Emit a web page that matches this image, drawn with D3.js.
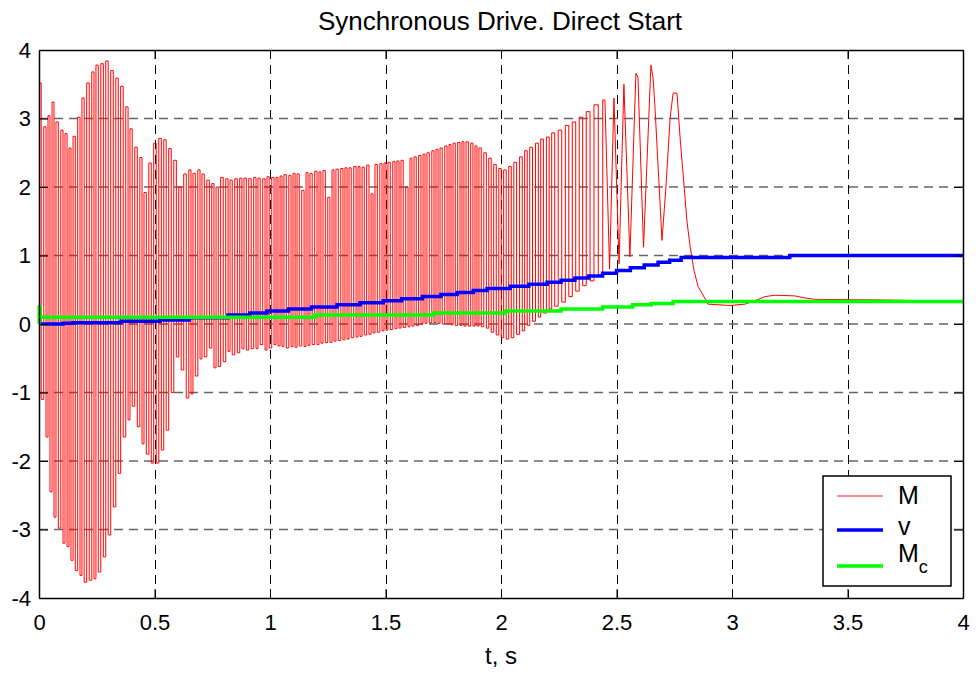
<!DOCTYPE html>
<html>
<head>
<meta charset="utf-8">
<script src="https://cdn.jsdelivr.net/npm/d3@7"></script>
<style>
  body { margin: 0; background: #fff; }
  svg { display: block; font-family: "Liberation Sans", Arial, Helvetica, sans-serif; }
</style>
</head>
<body>
<svg id="chart" width="976" height="675"></svg>
<script>
// ---- data ----
var xTicks = [0, 0.5, 1, 1.5, 2, 2.5, 3, 3.5, 4];
var yTicks = [-4, -3, -2, -1, 0, 1, 2, 3, 4];

// M: turning points of the torque trace (alternating peak / trough), t in s
var mT = [0.000,
  0.004, 0.015, 0.026, 0.035, 0.043, 0.052, 0.061, 0.069, 0.078, 0.089,
  0.100, 0.108, 0.117, 0.126, 0.134, 0.143, 0.152, 0.162, 0.173, 0.182,
  0.190, 0.201, 0.212, 0.223, 0.234, 0.242, 0.251, 0.262, 0.273, 0.284,
  0.294, 0.305, 0.316, 0.327, 0.338, 0.348, 0.359, 0.370, 0.381, 0.390,
  0.398, 0.409, 0.420, 0.431, 0.442, 0.450, 0.459, 0.470, 0.481, 0.491,
  0.502, 0.513, 0.524, 0.535, 0.545, 0.556, 0.567, 0.578, 0.589, 0.600,
  0.610, 0.621, 0.632, 0.643, 0.654, 0.662, 0.671, 0.682, 0.693, 0.701,
  0.710, 0.721, 0.732, 0.743, 0.753, 0.762, 0.771, 0.781, 0.792, 0.803,
  0.814, 0.823, 0.831, 0.842, 0.853, 0.864, 0.874, 0.883, 0.892, 0.903,
  0.913, 0.924, 0.935, 0.944, 0.952, 0.963, 0.974, 0.983, 0.991, 1.002,
  1.013, 1.022, 1.030, 1.039,
  1.048, 1.056, 1.065, 1.076, 1.087, 1.095, 1.104, 1.113, 1.121, 1.132,
  1.143, 1.152, 1.160, 1.169, 1.177, 1.188, 1.199, 1.208, 1.216, 1.225,
  1.234, 1.245, 1.255, 1.264, 1.273, 1.281, 1.290, 1.301, 1.312, 1.320,
  1.329, 1.338, 1.346, 1.357, 1.368, 1.377, 1.385, 1.394, 1.403, 1.413,
  1.424, 1.433, 1.442, 1.450, 1.459, 1.470, 1.481, 1.489, 1.498, 1.506,
  1.515, 1.526, 1.537, 1.545, 1.554, 1.563, 1.571, 1.582, 1.593, 1.602,
  1.610, 1.619, 1.628, 1.638, 1.649, 1.658, 1.667, 1.675, 1.684, 1.695,
  1.706, 1.714, 1.723, 1.732, 1.740, 1.751, 1.762, 1.771, 1.779, 1.788,
  1.797, 1.807, 1.818, 1.827, 1.835, 1.844, 1.853, 1.864, 1.874, 1.883,
  1.892, 1.900,
  1.909, 1.920, 1.931, 1.942, 1.952, 1.963, 1.974, 1.985, 1.996, 2.006,
  2.017, 2.028, 2.039, 2.050, 2.061, 2.074, 2.087, 2.097, 2.108, 2.119,
  2.130, 2.143, 2.156, 2.167, 2.177, 2.190, 2.203, 2.214, 2.225, 2.240,
  2.255, 2.271, 2.286, 2.301, 2.316, 2.331, 2.346, 2.361, 2.377, 2.394,
  2.411, 2.431, 2.450, 2.470, 2.489, 2.511, 2.532, 2.558, 2.584, 2.593,
  2.617, 2.649, 2.658, 2.666, 2.697,
  2.714, 2.732, 2.745, 2.762, 2.775, 2.788, 2.805, 2.818, 2.835, 2.853,
  2.870, 2.896, 2.991, 3.056, 3.100, 3.143, 3.186, 3.273, 3.316, 3.359,
  3.662, 4.000];
var mV = [0.30,
  3.52, -1.10, 2.88, -1.65, 3.04, -2.45, 3.24, -2.82, 2.95, -2.98,
  2.83, -3.20, 2.78, -3.25, 2.57, -3.45, 2.74, -3.60, 3.02, -3.67,
  3.30, -3.77, 3.52, -3.74, 3.68, -3.72, 3.78, -3.62, 3.80, -3.40,
  3.84, -3.08, 3.70, -2.67, 3.59, -2.18, 3.47, -1.65, 3.17, -1.40,
  2.85, -1.20, 2.58, -1.50, 2.43, -1.75, 1.92, -1.90, 2.35, -2.03,
  2.64, -2.03, 2.71, -1.84, 2.69, -1.55, 2.56, -1.00, 2.39, -0.48,
  2.00, -0.67, 2.19, -1.08, 2.25, -1.02, 2.20, -0.76, 2.25, -0.51,
  2.19, -0.48, 2.10, -0.35, 2.05, -0.64, 2.00, -0.62, 2.14, -0.55,
  2.12, -0.40, 2.10, -0.45, 2.12, -0.42, 2.13, -0.36, 2.13, -0.38,
  2.12, -0.36, 2.14, -0.36, 2.13, -0.30, 2.12, -0.38, 2.15, -0.35,
  2.14, -0.30, 2.14, -0.32,
  2.16, -0.33, 2.18, -0.35, 2.17, -0.33, 2.20, -0.34, 2.19, -0.32,
  1.95, -0.33, 2.21, -0.31, 2.20, -0.30, 2.23, -0.30, 2.22, -0.28,
  2.24, -0.27, 1.85, -0.27, 2.25, -0.25, 2.26, -0.24, 2.27, -0.23,
  2.28, -0.22, 2.28, -0.20, 2.30, -0.19, 2.30, -0.18, 2.29, -0.16,
  2.32, -0.15, 1.90, -0.13, 2.33, -0.12, 2.34, -0.10, 2.35, -0.09,
  2.36, -0.08, 2.37, -0.07, 2.38, -0.06, 2.39, -0.05, 2.00, -0.04,
  2.42, -0.03, 2.44, -0.02, 2.46, 0.00, 2.48, 0.01, 2.50, 0.02,
  2.53, 0.02, 2.55, 0.01, 2.57, 0.00, 2.60, 0.00, 2.62, -0.01,
  2.64, -0.02, 2.65, -0.02, 2.66, -0.03, 2.66, -0.03, 2.64, -0.03,
  2.60, -0.03,
  2.57, -0.04, 2.50, -0.06, 2.42, -0.12, 2.33, -0.16, 2.27, -0.20,
  2.25, -0.22, 2.30, -0.20, 2.36, -0.15, 2.44, -0.10, 2.53, -0.02,
  2.58, 0.04, 2.64, 0.10, 2.70, 0.16, 2.73, 0.22, 2.79, 0.26,
  2.83, 0.32, 2.90, 0.40, 2.95, 0.48, 3.02, 0.56, 3.10, 0.63,
  3.20, 0.72, 3.27, 0.80, 3.30, 0.88, 3.50, 0.98, 3.66, 3.60,
  1.12, 3.78, 3.60, 3.20, 1.22,
  2.00, 3.00, 3.37, 3.37, 2.73, 2.20, 1.50, 1.15, 0.79, 0.55,
  0.45, 0.29, 0.27, 0.29, 0.34, 0.40, 0.42, 0.41, 0.38, 0.36,
  0.35, 0.33];

// v: speed (stepped)
var vT = [0, 0.104, 0.147, 0.355, 0.524, 0.65, 0.818, 0.913, 0.987, 1.08, 1.18,
  1.29, 1.39, 1.49, 1.57, 1.66, 1.74, 1.81, 1.88, 1.94, 2.04, 2.12, 2.20, 2.26,
  2.32, 2.38, 2.44, 2.50, 2.56, 2.62, 2.68, 2.73, 2.78, 3.25, 4];
var vV = [0.00, 0.01, 0.02, 0.04, 0.06, 0.09, 0.13, 0.16, 0.19, 0.22, 0.25,
  0.28, 0.31, 0.34, 0.37, 0.40, 0.43, 0.46, 0.49, 0.52, 0.55, 0.58, 0.61, 0.64,
  0.67, 0.70, 0.74, 0.78, 0.82, 0.86, 0.90, 0.93, 0.97, 1.00, 1.00];

// Mc: load torque (stepped)
var mcT = [0, 0.001, 0.004, 1.195, 1.706, 2.02, 2.26, 2.44, 2.57, 2.65, 2.745, 4];
var mcV = [0.00, 0.25, 0.10, 0.13, 0.16, 0.19, 0.22, 0.25, 0.28, 0.30, 0.33, 0.33];

// ---- drawing ----
var svg = d3.select('#chart');
var x = d3.scaleLinear().domain([0, 4]).range([39, 963]);
var y = d3.scaleLinear().domain([-4, 4]).range([598, 50]);

var grid = svg.append('g');
grid.selectAll('line.gx').data(xTicks.slice(1, -1)).enter().append('line')
  .attr('x1', function(d) { return Math.round(x(d)) + 0.5; })
  .attr('x2', function(d) { return Math.round(x(d)) + 0.5; })
  .attr('y1', y(4)).attr('y2', y(-4))
  .attr('stroke', '#000').attr('stroke-width', 1).attr('stroke-dasharray', '9,6');
grid.selectAll('line.gy').data(yTicks.slice(1, -1)).enter().append('line')
  .attr('x1', x(0)).attr('x2', x(4))
  .attr('y1', function(d) { return y(d); })
  .attr('y2', function(d) { return y(d); })
  .attr('stroke', '#666').attr('stroke-width', 1.4).attr('stroke-dasharray', '9,6');

function zip(ts, vs) {
  return ts.map(function(t, i) { return [t, vs[i]]; });
}
var line = d3.line().x(function(d) { return x(d[0]); }).y(function(d) { return y(d[1]); });
var stepMid = d3.line().curve(d3.curveStep)
  .x(function(d) { return x(d[0]); }).y(function(d) { return y(d[1]); });
var stepLine = d3.line().curve(d3.curveStepAfter)
  .x(function(d) { return x(d[0]); }).y(function(d) { return y(d[1]); });

// fast oscillation drawn as near-vertical strokes, slow end part as a plain line
var mPts = zip(mT, mV);
var split = mT.indexOf(2.450);
svg.append('path').datum(mPts.slice(0, split + 1)).attr('d', stepMid)
  .attr('fill', 'none').attr('stroke', '#ff0000').attr('stroke-width', 1);
svg.append('path').datum(mPts.slice(split)).attr('d', line)
  .attr('fill', 'none').attr('stroke', '#ff0000').attr('stroke-width', 1);
svg.append('path').datum(zip(vT, vV)).attr('d', stepLine)
  .attr('fill', 'none').attr('stroke', '#0000ff').attr('stroke-width', 3.5);
svg.append('path').datum(zip(mcT, mcV)).attr('d', stepLine)
  .attr('fill', 'none').attr('stroke', '#00ff00').attr('stroke-width', 3.5);

// axes (ticks inside, box all round)
var fmt = function(d) { return String(d); };
svg.append('g').attr('transform', 'translate(0,' + y(-4) + ')')
  .call(d3.axisBottom(x).tickValues(xTicks).tickSize(-9).tickSizeOuter(0).tickPadding(16).tickFormat(fmt));
svg.append('g').attr('transform', 'translate(0,' + y(4) + ')')
  .call(d3.axisTop(x).tickValues(xTicks).tickSize(-9).tickSizeOuter(0).tickFormat(''));
svg.append('g').attr('transform', 'translate(' + x(0) + ',0)')
  .call(d3.axisLeft(y).tickValues(yTicks).tickSize(-9).tickSizeOuter(0).tickPadding(8).tickFormat(fmt));
svg.append('g').attr('transform', 'translate(' + x(4) + ',0)')
  .call(d3.axisRight(y).tickValues(yTicks).tickSize(-9).tickSizeOuter(0).tickFormat(''));
svg.selectAll('.domain').attr('stroke', '#000').attr('stroke-width', 1.5);
svg.selectAll('.tick line').attr('stroke', '#000');
svg.selectAll('.tick text').attr('font-size', 22).attr('fill', '#000')
  .attr('font-family', '"Liberation Sans", Arial, sans-serif');

svg.append('text').attr('x', 500).attr('y', 30).attr('text-anchor', 'middle')
  .attr('font-size', 26).text('Synchronous Drive. Direct Start');
svg.append('text').attr('x', 501).attr('y', 664).attr('text-anchor', 'middle')
  .attr('font-size', 24).text('t, s');

// legend
var leg = svg.append('g');
leg.append('rect').attr('x', 823).attr('y', 476).attr('width', 128).attr('height', 110)
  .attr('fill', '#fff').attr('stroke', '#000').attr('stroke-width', 1.5);
var legItems = [
  { label: 'M', sub: '', color: '#ff6a6a', w: 1.5, ly: 496, ty: 504 },
  { label: 'v', sub: '', color: '#0000ff', w: 3.5, ly: 530, ty: 535 },
  { label: 'M', sub: 'c', color: '#00ff00', w: 3.5, ly: 566, ty: 562 }
];
legItems.forEach(function(d) {
  leg.append('line').attr('x1', 837).attr('x2', 883).attr('y1', d.ly).attr('y2', d.ly)
    .attr('stroke', d.color).attr('stroke-width', d.w);
  var t = leg.append('text').attr('x', 898).attr('y', d.ty).attr('font-size', 25).text(d.label);
  if (d.sub) {
    t.append('tspan').attr('dy', 11).attr('font-size', 18).text(d.sub);
  }
});
</script>
</body>
</html>
